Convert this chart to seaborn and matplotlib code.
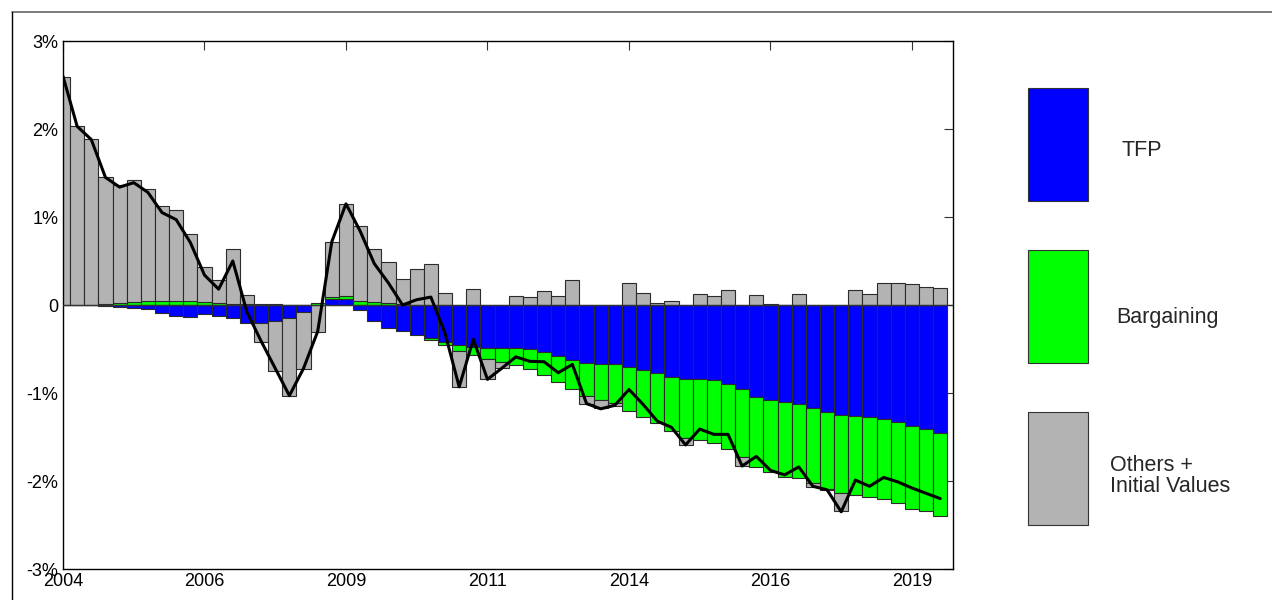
import matplotlib
matplotlib.use('Agg')
import matplotlib.pyplot as plt
from matplotlib.patches import Rectangle
from matplotlib.lines import Line2D
import numpy as np
import pandas as pd
import seaborn as sns

quarters = pd.period_range('2004Q1', '2019Q3', freq='Q')

tfp = [0.0, 0.0, 0.0, -0.01, -0.02, -0.03, -0.045, -0.095, -0.125, -0.14,
       -0.10, -0.12, -0.15, -0.20, -0.21, -0.18, -0.15, -0.08, 0.0, 0.07,
       0.065, -0.057, -0.18, -0.26, -0.30, -0.34, -0.37, -0.42, -0.455, -0.48,
       -0.49, -0.49, -0.49, -0.50, -0.53, -0.58, -0.625, -0.655, -0.675, -0.675,
       -0.71, -0.735, -0.77, -0.82, -0.837, -0.845, -0.856, -0.898, -0.958, -1.05,
       -1.076, -1.106, -1.12, -1.17, -1.22, -1.25, -1.26, -1.27, -1.29, -1.33,
       -1.38, -1.41, -1.45]

bargaining = [0.0, 0.0, 0.005, 0.01, 0.02, 0.03, 0.045, 0.045, 0.045, 0.04,
              0.03, 0.02, 0.015, 0.01, 0.01, 0.01, 0.005, 0.0, 0.02, 0.02,
              0.035, 0.04, 0.03, 0.02, 0.01, 0.005, -0.03, -0.04, -0.065, -0.087,
              -0.125, -0.163, -0.19, -0.23, -0.27, -0.29, -0.33, -0.375, -0.405, -0.443,
              -0.496, -0.534, -0.576, -0.61, -0.674, -0.686, -0.712, -0.74, -0.773, -0.788,
              -0.818, -0.85, -0.845, -0.856, -0.867, -0.886, -0.90, -0.91, -0.92, -0.92,
              -0.94, -0.936, -0.947]

others = [2.59, 2.03, 1.885, 1.45, 1.34, 1.39, 1.275, 1.085, 1.035, 0.77,
          0.40, 0.26, 0.625, 0.10, -0.21, -0.57, -0.88, -0.65, -0.31, 0.63,
          1.05, 0.86, 0.61, 0.47, 0.29, 0.40, 0.47, 0.14, -0.41, 0.18,
          -0.227, -0.064, 0.10, 0.09, 0.155, 0.10, 0.28, -0.10, -0.095, -0.03,
          0.245, 0.14, 0.02, 0.05, -0.08, 0.12, 0.10, 0.17, -0.098, 0.11,
          0.015, 0.0, 0.13, -0.045, -0.01, -0.21, 0.17, 0.12, 0.245, 0.245,
          0.235, 0.20, 0.195]

total = [2.60, 2.03, 1.88, 1.45, 1.34, 1.39, 1.28, 1.05, 0.97, 0.71,
         0.34, 0.18, 0.50, -0.08, -0.41, -0.72, -1.03, -0.72, -0.30, 0.72,
         1.15, 0.84, 0.47, 0.25, 0.0, 0.06, 0.09, -0.32, -0.93, -0.39,
         -0.845, -0.72, -0.59, -0.64, -0.645, -0.77, -0.675, -1.12, -1.18, -1.14,
         -0.96, -1.13, -1.32, -1.39, -1.59, -1.41, -1.47, -1.47, -1.83, -1.72,
         -1.88, -1.93, -1.84, -2.06, -2.10, -2.35, -1.99, -2.06, -1.96, -2.01,
         -2.08, -2.14, -2.20]

series_names = ['TFP', 'Bargaining', 'Others +\nInitial Values']
series_colors = ['#0000ff', '#00ff00', '#b3b3b3']

y_ticks = [-3, -2, -1, 0, 1, 2, 3]
y_labels = ['-3%', '-2%', '-1%', '0', '1%', '2%', '3%']

sns.set_style('white')
plt.rcParams['font.family'] = ['Liberation Sans', 'DejaVu Sans']

fig = plt.figure(figsize=(12.72, 6.0), dpi=100)
ax = fig.add_axes([63 / 1272, 31 / 600, 890 / 1272, 528 / 600])

x = np.arange(len(quarters))
pos_bottom = np.zeros(len(x))
neg_bottom = np.zeros(len(x))
for values, color in zip([tfp, bargaining, others], series_colors):
    v = np.asarray(values)
    bottom = np.where(v >= 0, pos_bottom, neg_bottom)
    ax.bar(x, v, width=1.0, bottom=bottom, color=color,
           edgecolor='#2b2b2b', linewidth=0.8, zorder=2)
    pos_bottom = pos_bottom + np.clip(v, 0, None)
    neg_bottom = neg_bottom + np.clip(v, None, 0)

ax.axhline(0, color='#333333', linewidth=1.0, zorder=3)
sns.lineplot(x=x, y=total, ax=ax, color='black', linewidth=2.2, zorder=4)

ax.set_xlim(0, 62.9)
ax.set_ylim(-3, 3)
ax.set_yticks(y_ticks)
ax.set_yticklabels(y_labels)
tick_idx = x[::10]
ax.set_xticks(tick_idx)
ax.set_xticklabels([str(quarters[i].year) for i in tick_idx])
ax.tick_params(direction='in', length=6.5, width=0.8, labelsize=13,
               top=True, right=True, colors='#333333', labelcolor='black')
ax.tick_params(axis='x', pad=3)
for s in ax.spines.values():
    s.set_color('black')
    s.set_linewidth(1.0)
    s.set_visible(True)

# legend drawn as tall boxes in pixel space
lax = fig.add_axes([0, 0, 1, 1], zorder=-1)
lax.set_xlim(0, 1272)
lax.set_ylim(600, 0)
lax.axis('off')
box_tops = [88, 250, 412]
text_pos = [(1121, 151), (1116, 318), (1110, 476)]
for top, color, (tx, ty), name in zip(box_tops, series_colors, text_pos, series_names):
    lax.add_patch(Rectangle((1028, top), 60, 113, facecolor=color,
                            edgecolor='#333333', linewidth=0.8))
    lax.text(tx, ty, name, fontsize=15.5, va='center', ha='left', linespacing=1.05)

# outer frame (top and left edges)
lax.add_line(Line2D([12, 1272], [12, 12], color='#666666', linewidth=1.2))
lax.add_line(Line2D([12, 12], [12, 600], color='black', linewidth=1.0))

fig.savefig('out.png', dpi=100)
plt.close(fig)
